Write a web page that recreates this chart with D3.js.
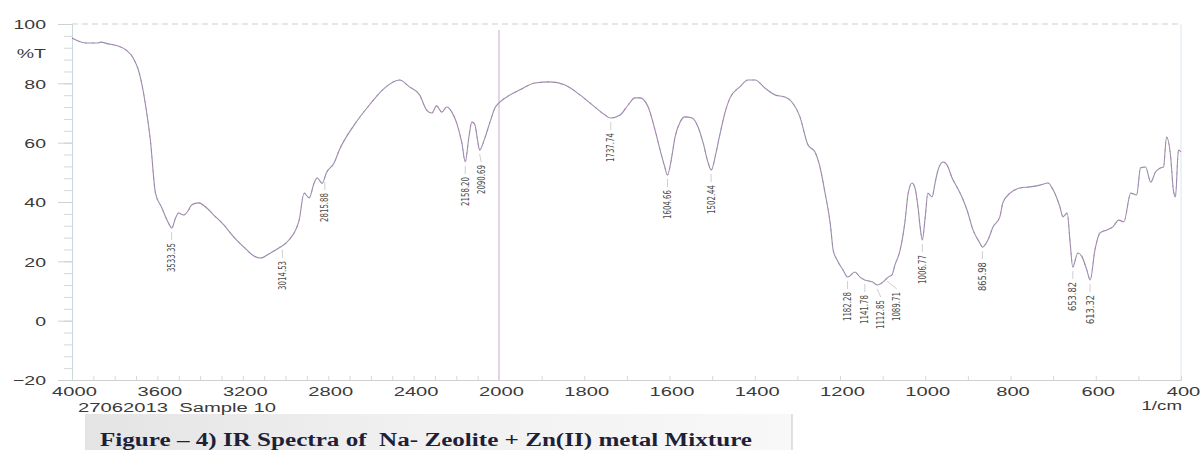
<!DOCTYPE html>
<html>
<head>
<meta charset="utf-8">
<script src="https://cdn.jsdelivr.net/npm/d3@7"></script>
<style>
  body { margin: 0; background: #fff; }
  svg { display: block; }
</style>
</head>
<body>
<div id="chart"></div>
<script>
'use strict';

// spectrum (1/cm , %T)
const wavenumber = [
  4000, 3934, 3878, 3864, 3831, 3784, 3746, 3713, 3689, 3675, 3652, 3633, 3609, 3581, 3548, 3533, 3515, 3501, 3478, 3454, 3440, 3407,
  3374, 3336, 3289, 3242, 3195, 3148, 3115, 3078, 3031, 3015, 2984, 2936, 2913, 2889, 2866, 2852, 2828, 2809, 2772, 2748,
  2678, 2607, 2536, 2466, 2419, 2372, 2339, 2315, 2292, 2268, 2245, 2221, 2198, 2174, 2158, 2141, 2127, 2113, 2099, 2091, 2066, 2042, 2019, 2000,
  1974, 1951, 1916, 1880, 1845, 1810, 1775, 1751, 1738, 1716, 1697, 1681, 1669, 1650, 1634, 1622, 1611, 1605, 1594, 1587, 1575, 1564, 1547, 1533,
  1521, 1510, 1502, 1491, 1482, 1470, 1458, 1435, 1416, 1399,
  1376, 1352, 1329, 1313, 1294, 1275, 1259, 1247, 1235, 1223, 1216, 1207, 1193, 1182, 1165, 1153, 1142, 1123, 1113, 1094, 1087, 1078, 1071, 1059,
  1048, 1040, 1031, 1024, 1017, 1012, 1007, 1000,
  994, 984, 977, 970, 958, 949, 937, 926, 914, 902, 888, 872, 866, 853, 841, 825, 818, 801, 778, 754,
  731, 712, 700, 684, 677, 667, 660, 654, 642, 632, 621, 613, 602, 590, 574, 560, 546, 534, 518, 504,
  495, 483, 471, 460, 448, 441, 434, 424, 418, 413, 406, 400
];
const transmittance = [
  95.3, 93.6, 93.6, 93.9, 93.3, 92.6, 91.2, 88.5, 84.5, 80.5, 71.0, 60.9, 43.0, 38.3, 32.9, 31.2, 34.6, 36.3, 35.6, 37.3, 39.0, 39.7,
  38.3, 35.6, 32.3, 28.2, 24.8, 21.8, 21.1, 22.5, 24.5, 25.2, 27.2, 33.9, 43.0, 41.4, 46.4, 48.1, 46.3, 49.8, 53.2, 57.5,
  66.0, 72.7, 78.4, 81.1, 78.8, 76.1, 71.0, 70.0, 72.4, 70.3, 72.0, 70.3, 66.6, 59.9, 53.5, 61.9, 67.0, 66.0, 60.2, 57.5, 61.6, 67.0, 71.7, 73.4,
  76.1, 77.8, 80.1, 80.5, 79.4, 76.1, 72.0, 69.3, 68.3, 69.3, 72.7, 75.1, 75.1, 72.0, 64.3, 57.5, 51.8, 49.1, 55.8, 61.9, 67.0, 68.7, 68.3, 65.3,
  59.9, 53.5, 50.8, 56.5, 62.6, 70.0, 75.1, 78.8, 81.1, 81.1,
  78.4, 76.1, 75.4, 73.7, 68.7, 59.2, 56.9, 51.8, 43.0, 32.9, 23.8, 20.5, 17.1, 14.7, 16.4, 14.7, 13.7, 13.0, 12.0, 13.7, 14.7, 15.4, 18.8, 23.8,
  32.9, 43.0, 46.4, 44.7, 38.3, 31.6, 27.2, 35.0,
  43.0, 41.7, 46.4, 50.8, 53.5, 52.5, 48.1, 45.1, 41.7, 37.3, 30.6, 26.2, 24.8, 27.2, 31.6, 35.0, 39.7, 43.0, 44.7, 45.1,
  45.7, 46.4, 44.1, 38.3, 35.0, 36.3, 26.2, 18.1, 22.8, 21.5, 17.1, 13.7, 23.8, 29.6, 30.6, 31.6, 33.9, 33.3, 43.0, 42.4,
  51.5, 51.8, 46.7, 50.1, 51.5, 51.8, 61.9, 54.8, 44.1, 41.7, 57.5, 57.0
];

// picked peaks
const peakWn = [3533.35, 3014.53, 2815.88, 2158.20, 2090.69, 1737.74, 1604.66, 1502.44,
                1182.28, 1141.78, 1112.85, 1089.71, 1006.77, 865.98, 653.82, 613.32];
const peakT = [31.2, 25.2, 48.1, 53.5, 57.5, 68.3, 49.1, 50.8,
               14.7, 13.7, 12.0, 14.7, 27.2, 24.8, 18.1, 13.7];

const xTicks = [4000, 3600, 3200, 2800, 2400, 2000, 1800, 1600, 1400, 1200, 1000, 800, 600, 400];
const yTicks = [100, 80, 60, 40, 20, 0, -20];
const yMinorTicks = d3.range(-20, 100.1, 4);
const xMinorTicks = d3.range(400, 4000.1, 100);

const sampleText = "27062013  Sample 10";
const unitText = "1/cm";
const yUnitText = "%T";
const titleText = "Figure \u2013 4) IR Spectra of  Na- Zeolite + Zn(II) metal Mixture";

const width = 1201;
const height = 450;

const svg = d3.select("#chart").append("svg")
  .attr("width", width)
  .attr("height", height);

// spectrometer charts squeeze 4000-2000 to half density
const x = d3.scaleLinear()
  .domain([4000, 2000, 400])
  .range([72, 499, 1181]);

const y = d3.scaleLinear()
  .domain([-20, 100])
  .range([380, 24]);

const axisFont = "Liberation Sans, Arial, sans-serif";
const labelColor = "#3a3a3a";

// title strip (pasted paper)
const grad = svg.append("defs").append("linearGradient")
  .attr("id", "paper");
grad.append("stop").attr("offset", "0%").attr("stop-color", "#e4e4e4");
grad.append("stop").attr("offset", "45%").attr("stop-color", "#f0f0f0");
grad.append("stop").attr("offset", "100%").attr("stop-color", "#f8f8f8");

svg.append("rect")
  .attr("x", 85).attr("y", 414)
  .attr("width", 707).attr("height", 36)
  .attr("fill", "url(#paper)");
svg.append("line")
  .attr("x1", 792).attr("x2", 792)
  .attr("y1", 414).attr("y2", 450)
  .attr("stroke", "#c4c4c4");

// top dashed line at 100 %T
svg.append("line")
  .attr("x1", x(4000)).attr("x2", x(400))
  .attr("y1", y(100)).attr("y2", y(100))
  .attr("stroke", "#cfcfcf")
  .attr("stroke-dasharray", "6,4");

// right frame
svg.append("line")
  .attr("x1", x(400)).attr("x2", x(400))
  .attr("y1", y(100)).attr("y2", y(-20))
  .attr("stroke", "#dde6ee");

// break line at 2000
svg.append("line")
  .attr("x1", x(2000)).attr("x2", x(2000))
  .attr("y1", y(98)).attr("y2", y(-20))
  .attr("stroke", "#dcc3df")
  .attr("stroke-width", 1.5);

// y axis
const yMinor = svg.append("g")
  .attr("transform", `translate(${x(4000)},0)`)
  .call(d3.axisLeft(y).tickValues(yMinorTicks).tickSize(8).tickFormat(""));
yMinor.select(".domain").attr("stroke", "#c8d8dc");
yMinor.selectAll(".tick line").attr("stroke", "#d6d6d6");

const yAxis = svg.append("g")
  .attr("transform", `translate(${x(4000)},0)`)
  .call(d3.axisLeft(y).tickValues(yTicks).tickSize(14));
yAxis.select(".domain").remove();
yAxis.selectAll(".tick line").attr("stroke", "#d0d0d0");
yAxis.selectAll(".tick text")
  .attr("x", 0)
  .attr("dy", "0.36em")
  .attr("transform", "translate(-26,0) scale(1.5,1)")
  .attr("font-family", axisFont)
  .attr("font-size", 13)
  .attr("fill", labelColor);

svg.append("text")
  .attr("transform", `translate(${x(4000) - 26},${y(90)}) scale(1.5,1)`)
  .attr("dy", "0.36em")
  .attr("text-anchor", "end")
  .attr("font-family", axisFont)
  .attr("font-size", 13)
  .attr("fill", labelColor)
  .text(yUnitText);

// x axis
const xMinor = svg.append("g")
  .attr("transform", `translate(0,${y(-20)})`)
  .call(d3.axisBottom(x).tickValues(xMinorTicks).tickSize(-4).tickFormat(""));
xMinor.select(".domain").attr("stroke", "#cfcfcf");
xMinor.selectAll(".tick line").attr("stroke", "#d8d8d8");

const xAxis = svg.append("g")
  .attr("transform", `translate(0,${y(-20)})`)
  .call(d3.axisBottom(x).tickValues(xTicks).tickSize(0).tickFormat(d3.format("d")));
xAxis.select(".domain").remove();
xAxis.selectAll(".tick text")
  .attr("y", 0)
  .attr("dy", 0)
  .attr("transform", "translate(2,16) scale(1.55,1)")
  .attr("font-family", axisFont)
  .attr("font-size", 13)
  .attr("fill", labelColor);

svg.append("text")
  .attr("transform", `translate(${x(400) + 1},${y(-20) + 30}) scale(1.5,1)`)
  .attr("text-anchor", "end")
  .attr("font-family", axisFont)
  .attr("font-size", 12.5)
  .attr("fill", labelColor)
  .text(unitText);

svg.append("text")
  .attr("transform", `translate(78,${y(-20) + 32}) scale(1.5,1)`)
  .style("white-space", "pre")
  .attr("font-family", axisFont)
  .attr("font-size", 13.5)
  .attr("fill", labelColor)
  .text(sampleText);

// spectrum
const points = wavenumber.map((w, i) => ({wn: w, t: transmittance[i]}));

const line = d3.line()
  .x(d => x(d.wn))
  .y(d => y(d.t))
  .curve(d3.curveMonotoneX);

svg.append("path")
  .datum(points)
  .attr("fill", "none")
  .attr("stroke", "#9691a6")
  .attr("stroke-width", 1.1)
  .attr("d", line);

// colour fringes from the scan
svg.append("path")
  .datum(points)
  .attr("fill", "none")
  .attr("stroke", "#c76ed0")
  .attr("stroke-width", 1.1)
  .attr("stroke-dasharray", "2,5")
  .attr("opacity", 0.55)
  .attr("d", line);

// peak labels, pushed apart when crowded
const peaks = peakWn.map((w, i) => ({wn: w, t: peakT[i], lx: x(w)}));
peaks.sort((a, b) => a.lx - b.lx);
peaks.forEach((p, i) => {
  if (i > 0 && p.lx - peaks[i - 1].lx < 16) {
    p.lx = peaks[i - 1].lx + 16;
  }
});

const peakG = svg.append("g");

peakG.selectAll("line")
  .data(peaks)
  .enter()
  .append("line")
  .attr("x1", d => x(d.wn))
  .attr("x2", d => d.lx)
  .attr("y1", d => y(d.t) + 4)
  .attr("y2", d => y(d.t) + 12)
  .attr("stroke", "#cfcfcf");

peakG.selectAll("text")
  .data(peaks)
  .enter()
  .append("text")
  .attr("transform", d => `translate(${d.lx + 3.5},${y(d.t) + 15}) rotate(-90)`)
  .attr("text-anchor", "end")
  .attr("textLength", 29)
  .attr("lengthAdjust", "spacingAndGlyphs")
  .attr("font-family", "Liberation Sans Narrow, Arial Narrow, DejaVu Sans Condensed, sans-serif")
  .attr("font-size", 10)
  .attr("fill", "#4a4a4a")
  .text(d => d.wn.toFixed(2));

// caption
svg.append("text")
  .attr("x", 100)
  .attr("y", 446)
  .attr("textLength", 652)
  .attr("lengthAdjust", "spacingAndGlyphs")
  .style("white-space", "pre")
  .attr("font-family", "Liberation Serif, Times New Roman, serif")
  .attr("font-weight", "bold")
  .attr("font-size", 18)
  .attr("fill", "#1f1f38")
  .text(titleText);
</script>
</body>
</html>
